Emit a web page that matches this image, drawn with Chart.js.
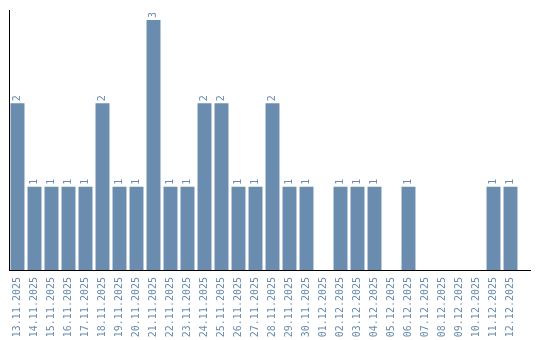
<!DOCTYPE html>
<html>
<head>
<meta charset="utf-8">
<script src="https://cdn.jsdelivr.net/npm/chart.js@4.4.1/dist/chart.umd.min.js"></script>
<style>
  html, body { margin: 0; padding: 0; background: #fff; }
  #wrap { width: 540px; height: 340px; }
</style>
</head>
<body>
<div id="wrap"><canvas id="myChart"></canvas></div>
<script>
// dates (x axis)
let labels = ['13.11.2025', '14.11.2025', '15.11.2025', '16.11.2025', '17.11.2025', '18.11.2025',
    '19.11.2025', '20.11.2025', '21.11.2025', '22.11.2025', '23.11.2025', '24.11.2025',
    '25.11.2025', '26.11.2025', '27.11.2025', '28.11.2025', '29.11.2025', '30.11.2025',
    '01.12.2025', '02.12.2025', '03.12.2025', '04.12.2025', '05.12.2025', '06.12.2025',
    '07.12.2025', '08.12.2025', '09.12.2025', '10.12.2025', '11.12.2025', '12.12.2025'];
// count per day
let counts = [2, 1, 1, 1, 1, 2, 1, 1, 3, 1, 1, 2, 2, 1, 1, 2, 1, 1, 0, 1, 1, 1, 0, 1, 0, 0, 0, 0, 1, 1];

const blue = '#6a8cae';

// values above the bars + x axis line running a bit past the last bar
const barValues = {
    id: 'barValues',
    afterDatasetsDraw(chart) {
        const ctx = chart.ctx;
        const meta = chart.getDatasetMeta(0);
        const area = chart.chartArea;
        ctx.save();
        ctx.strokeStyle = '#000';
        ctx.lineWidth = 1;
        ctx.beginPath();
        ctx.moveTo(area.left, Math.round(area.bottom) + 0.5);
        ctx.lineTo(chart.width - 9, Math.round(area.bottom) + 0.5);
        ctx.stroke();

        ctx.font = '10px "DejaVu Sans Mono"';
        ctx.fillStyle = blue;
        ctx.textAlign = 'left';
        ctx.textBaseline = 'middle';
        meta.data.forEach(function (bar, i) {
            if (!counts[i]) return;
            ctx.save();
            ctx.translate(bar.x, bar.y - 2);
            ctx.rotate(-Math.PI / 2);
            ctx.fillText(String(counts[i]), 0, 0);
            ctx.restore();
        });
        ctx.restore();
    }
};

const myChart = new Chart(document.getElementById('myChart'), {
    type: 'bar',
    data: {
        labels: labels,
        datasets: [{
            data: counts,
            backgroundColor: blue,
            barPercentage: 0.82,
            categoryPercentage: 1.0
        }]
    },
    options: {
        responsive: true,
        maintainAspectRatio: false,
        animation: false,
        layout: { padding: { top: 10, left: 9, right: 21, bottom: 0 } },
        plugins: {
            legend: { display: false },
            tooltip: { enabled: false }
        },
        scales: {
            x: {
                grid: { display: false, drawTicks: false },
                border: { display: false },
                ticks: {
                    color: blue,
                    font: { family: 'DejaVu Sans Mono', size: 10 },
                    minRotation: 90,
                    maxRotation: 90,
                    autoSkip: false,
                    padding: 7
                },
                afterFit: function (scale) { scale.height = 70; }
            },
            y: {
                min: 0,
                max: 3.12,
                grid: { display: false, drawTicks: false },
                border: { display: true, color: '#000', width: 1 },
                ticks: { display: false }
            }
        }
    },
    plugins: [barValues]
});
</script>
</body>
</html>
